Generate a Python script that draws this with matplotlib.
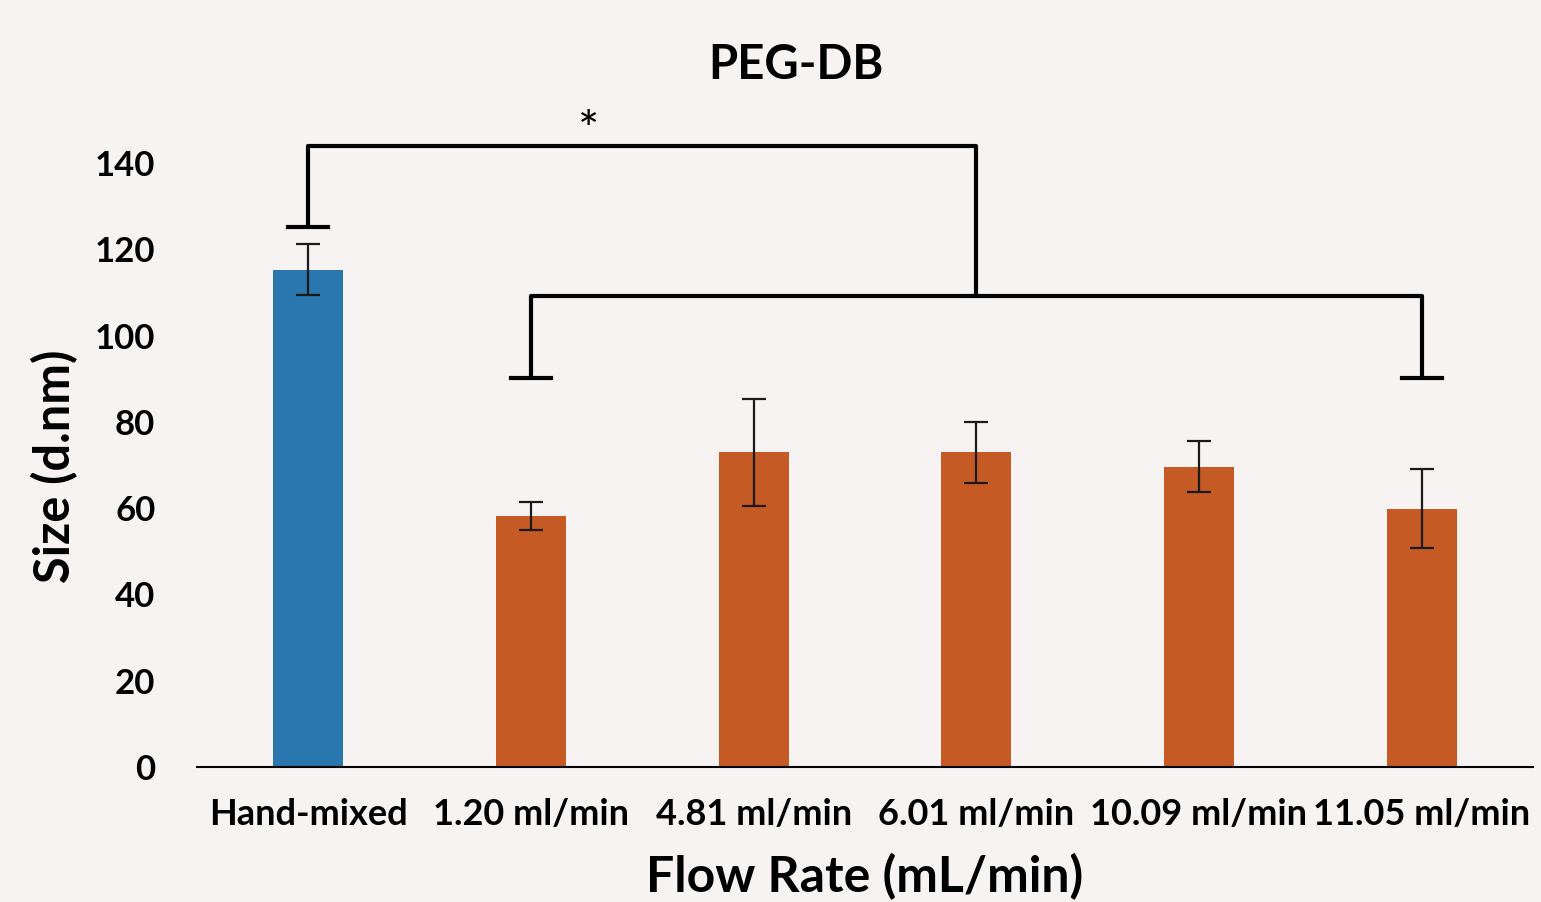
import matplotlib.pyplot as plt
import numpy as np

categories = ['Hand-mixed', '1.20 ml/min', '4.81 ml/min', '6.01 ml/min', '10.09 ml/min', '11.05 ml/min']
sizes = [115.3, 58.2, 72.9, 72.9, 69.6, 59.9]
errors = [6.0, 3.2, 12.5, 7.0, 5.9, 9.2]
colors = ['#2A77B0', '#C55A24', '#C55A24', '#C55A24', '#C55A24', '#C55A24']

# significance brackets
top_y = 144
hand_cap_y = 125.2
low_y = 109.2
low_cap_y = 90.2
star_x = 1.26
star_y = 147

bg = '#F7F3F2'
plt.rcParams['font.family'] = ['Lato', 'DejaVu Sans']

fig = plt.figure(figsize=(15.41, 9.02), dpi=100, facecolor=bg)
ax = fig.add_axes([0.1278, 0.1497, 0.867, 0.7652], facecolor=bg)

x = np.arange(len(categories))
ax.bar(x, sizes, width=0.315, color=colors, zorder=2)
ax.errorbar(x, sizes, yerr=errors, fmt='none', ecolor='#1a1a1a', elinewidth=1.6,
            capsize=8.5, capthick=1.6, zorder=3)

lw = 3
k = 'black'
# upper bracket
ax.plot([0, 0, 3, 3], [hand_cap_y, top_y, top_y, low_y], color=k, lw=lw, solid_capstyle='butt')
ax.plot([-0.09, 0.09], [hand_cap_y, hand_cap_y], color=k, lw=lw)
# lower bracket
ax.plot([1, 1, 5, 5], [low_cap_y, low_y, low_y, low_cap_y], color=k, lw=lw, solid_capstyle='butt')
ax.plot([0.91, 1.09], [low_cap_y, low_cap_y], color=k, lw=lw)
ax.plot([4.91, 5.09], [low_cap_y, low_cap_y], color=k, lw=lw)
ax.text(star_x, star_y, '*', ha='center', va='center', fontsize=36, color=k)

ax.set_xlim(-0.5, 5.5)
ax.set_ylim(0, 160)
ax.set_yticks(np.arange(0, 141, 20))
ax.set_xticks(x)
ax.set_xticklabels(categories, fontsize=26, fontweight='bold')
for t in ax.get_yticklabels():
    t.set_fontsize(25)
    t.set_fontweight('bold')
ax.tick_params(axis='both', length=0)
ax.tick_params(axis='x', pad=22)
ax.tick_params(axis='y', pad=30)
for s in ['top', 'right', 'left']:
    ax.spines[s].set_visible(False)
ax.spines['bottom'].set_linewidth(1.5)

ax.set_xlabel('Flow Rate (mL/min)', fontsize=36, fontweight='bold', labelpad=16)
ax.set_ylabel('Size (d.nm)', fontsize=35, fontweight='bold')
ax.yaxis.set_label_coords(-0.089, 0.435)
fig.text(796 / 1541, 1 - 65 / 902, 'PEG-DB', ha='center', va='center', fontsize=34, fontweight='bold')

fig.savefig('out.png', dpi=100, facecolor=bg)
